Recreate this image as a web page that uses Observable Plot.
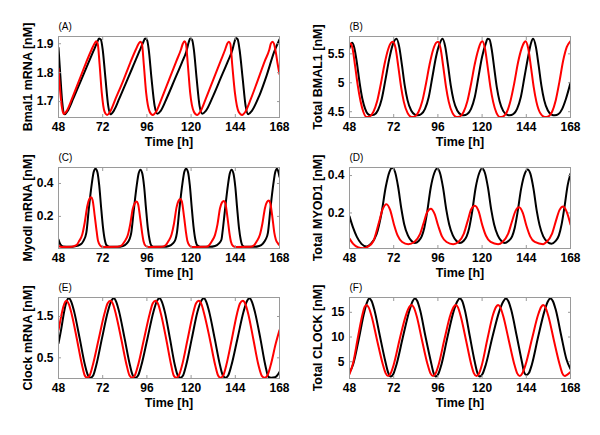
<!DOCTYPE html>
<html>
<head>
<meta charset="utf-8">
<script src="https://cdn.jsdelivr.net/npm/d3@7"></script>
<script src="https://cdn.jsdelivr.net/npm/@observablehq/plot@0.6"></script>
<style>
  html, body { margin: 0; padding: 0; background: white; }
  #wrap { position: relative; width: 600px; height: 435px; overflow: hidden; background: white; font-family: "Liberation Sans", Arial, sans-serif; }
  .pan { position: absolute; }
</style>
</head>
<body>
<div id="wrap"></div>
<script>
const timeTicks = [48, 72, 96, 120, 144, 168];
const panelLetters = ["(A)", "(B)", "(C)", "(D)", "(E)", "(F)"];
const yLabels = ["Bmal1 mRNA [nM]", "Total BMAL1 [nM]", "Myodl mRNA [nM]", "Total MYOD1 [nM]", "Clock mRNA [nM]", "Total CLOCK [nM]"];
const xLabel = "Time [h]";
const yDomains = [[1.645, 1.925], [4.40, 5.80], [0.005, 0.497], [0.01, 0.443], [0, 1.96], [1.6, 18]];
const yTickSets = [[1.7, 1.8, 1.9], [4.5, 5, 5.5], [0.2, 0.4], [0.2, 0.4], [0.5, 1.5], [5, 10, 15]];

// Panel A: Bmal1 mRNA
const bmal1Black = [[48,1.886],[49,1.79],[50,1.70],[51.4,1.656],[53,1.668],[56,1.71],[60,1.77],[64,1.83],[67,1.875],[69,1.905],[70,1.918],[71,1.914],[72,1.88],[73.5,1.78],[75,1.685],[76.2,1.656],[78,1.668],[81,1.71],[85,1.77],[89,1.83],[92,1.875],[94,1.905],[95,1.918],[96,1.914],[97,1.88],[98.5,1.78],[100.2,1.685],[101.6,1.658],[103.5,1.668],[107,1.715],[111,1.775],[115,1.835],[117.5,1.875],[118.7,1.905],[119.5,1.918],[120.5,1.914],[121.5,1.88],[123,1.78],[124.6,1.685],[126,1.658],[128,1.668],[132,1.72],[136,1.78],[140,1.84],[142.5,1.88],[143.5,1.905],[144.3,1.92],[145.3,1.915],[146.3,1.88],[148,1.78],[149.6,1.685],[151,1.656],[153,1.668],[157,1.72],[161,1.79],[165,1.87],[168,1.915]];
const bmal1Red = [[48,1.814],[49,1.73],[50,1.675],[50.9,1.657],[52.5,1.668],[55,1.705],[59,1.77],[63,1.835],[66,1.88],[67.5,1.9],[68.5,1.909],[69.3,1.90],[70.3,1.83],[71.5,1.73],[73,1.665],[74.4,1.654],[76,1.665],[79,1.71],[83,1.77],[87,1.835],[90,1.88],[91.5,1.9],[92.5,1.907],[93.3,1.90],[94.3,1.83],[95.6,1.73],[97.5,1.665],[99.2,1.654],[101,1.665],[104,1.71],[108,1.775],[112,1.84],[114.5,1.88],[115.5,1.9],[116.4,1.909],[117.2,1.90],[118.2,1.83],[119.5,1.73],[121.5,1.665],[123.3,1.654],[125,1.665],[128,1.71],[132,1.775],[136,1.84],[138.5,1.88],[139.6,1.9],[140.5,1.907],[141.3,1.90],[142.3,1.83],[143.8,1.73],[145.8,1.665],[147.7,1.654],[149.5,1.665],[152.5,1.71],[156,1.77],[160,1.84],[162.5,1.88],[163.3,1.9],[164.2,1.907],[165,1.90],[166,1.87],[167,1.83],[168,1.795]];

// Panel B: Total BMAL1
const totBmal1Black = [[48,5.60],[49.4,5.69],[50.5,5.62],[52,5.35],[53.5,5.0],[55,4.72],[56.5,4.55],[58,4.46],[59.5,4.437],[61.5,4.45],[63.5,4.53],[65.5,4.72],[67.5,5.05],[69.5,5.4],[71.5,5.66],[73.5,5.76],[75,5.62],[76.5,5.3],[78,4.95],[79.5,4.7],[81.5,4.52],[83.5,4.45],[85,4.437],[87,4.46],[89,4.55],[91,4.75],[93,5.1],[95,5.45],[97,5.68],[98.5,5.76],[100,5.62],[101.5,5.3],[103,4.95],[104.5,4.7],[106.5,4.52],[108.5,4.45],[110,4.437],[112,4.46],[114,4.55],[116,4.75],[118,5.1],[120,5.45],[122,5.68],[123,5.76],[124,5.75],[125.2,5.58],[126.6,5.25],[128,4.92],[129.5,4.68],[131.5,4.51],[133.5,4.45],[135,4.437],[137,4.46],[139,4.55],[141,4.75],[143,5.1],[145,5.45],[146.5,5.68],[147.7,5.76],[149.2,5.62],[150.7,5.3],[152.2,4.95],[153.7,4.7],[155.7,4.52],[157.7,4.45],[159.5,4.437],[161.5,4.46],[163.5,4.55],[165.5,4.72],[168,5.0]];
const totBmal1Red = [[48,5.66],[48.6,5.68],[49.6,5.6],[51,5.3],[52.5,4.95],[54,4.68],[55.5,4.5],[57.2,4.41],[59,4.42],[61,4.5],[63,4.68],[65,4.98],[67,5.32],[69,5.58],[70.5,5.69],[71.7,5.71],[73,5.6],[74.5,5.28],[76,4.93],[77.5,4.67],[79.5,4.48],[81.7,4.41],[83.5,4.42],[85.5,4.5],[87.5,4.68],[89.5,4.98],[91.5,5.32],[93.5,5.58],[95,5.69],[96.1,5.71],[97.4,5.6],[98.9,5.28],[100.4,4.93],[101.9,4.67],[103.9,4.48],[106.1,4.41],[108,4.42],[110,4.5],[112,4.68],[114,4.98],[116,5.32],[118,5.58],[119.2,5.69],[120.2,5.72],[121.5,5.6],[123,5.28],[124.5,4.93],[126,4.67],[127.8,4.48],[129.6,4.41],[131.5,4.42],[133.5,4.5],[135.5,4.7],[137.5,5.0],[139.5,5.35],[141.5,5.6],[142.7,5.69],[143.6,5.72],[145,5.6],[146.5,5.28],[148,4.93],[149.5,4.67],[151.5,4.48],[154,4.41],[156,4.42],[158,4.5],[160,4.7],[162,5.02],[164,5.38],[166,5.62],[168,5.72]];

// Panel C: Myod1 mRNA
const myodBlack = [[48,0.06],[49,0.03],[50.5,0.017],[54,0.015],[57,0.018],[60,0.03],[61.5,0.05],[63.1,0.1],[64.5,0.25],[66.1,0.4],[67.1,0.47],[68.1,0.49],[69.1,0.47],[70.1,0.39],[71.1,0.26],[72.1,0.14],[73.1,0.06],[74.1,0.025],[75.6,0.016],[80,0.015],[83,0.02],[85,0.035],[86.5,0.06],[87.5,0.1],[88.9,0.24],[90.5,0.39],[91.5,0.46],[92.5,0.484],[93.5,0.46],[94.5,0.38],[95.5,0.25],[96.5,0.13],[97.5,0.055],[98.5,0.022],[100,0.015],[105,0.015],[108,0.02],[110,0.035],[111.5,0.06],[112.3,0.1],[113.7,0.25],[115.3,0.4],[116.3,0.47],[117.3,0.49],[118.3,0.47],[119.3,0.39],[120.3,0.26],[121.3,0.14],[122.3,0.06],[123.3,0.025],[124.8,0.016],[130,0.015],[133,0.02],[135,0.035],[136.5,0.06],[137,0.1],[138.4,0.24],[140,0.39],[141,0.46],[142,0.484],[143,0.46],[144,0.38],[145,0.25],[146,0.13],[147,0.055],[148,0.022],[149.5,0.015],[154,0.015],[157,0.02],[159,0.035],[160.5,0.06],[161.7,0.1],[163.1,0.25],[164.7,0.4],[165.7,0.47],[166.7,0.49],[167.4,0.47],[168,0.44]];
const myodRed = [[48,0.02],[50,0.014],[55,0.015],[57.7,0.025],[59.2,0.05],[60.9,0.09],[62.2,0.16],[63.6,0.26],[64.7,0.305],[65.7,0.316],[66.5,0.3],[67.7,0.2],[68.7,0.11],[69.5,0.05],[70.7,0.022],[72,0.014],[80,0.015],[82.4,0.025],[83.9,0.048],[85.6,0.085],[86.9,0.15],[88.3,0.245],[89.4,0.28],[90.4,0.29],[91.2,0.275],[92.4,0.185],[93.4,0.1],[94.2,0.048],[95.4,0.02],[97,0.014],[104,0.015],[106.2,0.025],[107.7,0.05],[109.4,0.09],[110.7,0.155],[112.1,0.255],[113.2,0.295],[114.2,0.306],[115,0.29],[116.2,0.195],[117.2,0.105],[118,0.05],[119.2,0.022],[120.5,0.014],[128,0.015],[129.8,0.025],[131.3,0.05],[133,0.088],[134.3,0.15],[135.7,0.25],[136.8,0.285],[137.8,0.294],[138.6,0.28],[139.8,0.19],[140.8,0.1],[141.6,0.048],[142.8,0.02],[144,0.014],[152,0.015],[154.2,0.025],[155.7,0.05],[157.4,0.09],[158.7,0.155],[160.1,0.25],[161.2,0.287],[162.2,0.296],[163,0.28],[164.2,0.19],[165.2,0.1],[166,0.06],[167.2,0.035],[168,0.025]];

// Panel D: Total MYOD1
const totMyodBlack = [[48,0.182],[50,0.12],[52,0.072],[54.5,0.035],[57.2,0.021],[59.5,0.035],[62.7,0.086],[65.4,0.2],[67.7,0.34],[69.7,0.42],[71.2,0.442],[72.7,0.42],[74.4,0.34],[76.2,0.22],[77.7,0.14],[79.7,0.08],[81.7,0.05],[83.5,0.039],[85.5,0.05],[87.2,0.075],[88.6,0.12],[90.1,0.2],[92.1,0.335],[94.1,0.415],[95.6,0.437],[97.1,0.415],[98.8,0.335],[100.6,0.215],[102.1,0.14],[104.1,0.08],[106.1,0.05],[107.9,0.039],[109.9,0.05],[111.6,0.075],[113,0.12],[114.5,0.2],[116.5,0.335],[118.5,0.415],[120,0.437],[121.5,0.415],[123.2,0.335],[125,0.215],[126.5,0.14],[128.5,0.08],[130.5,0.05],[132.3,0.039],[134.3,0.05],[136.3,0.075],[137.7,0.12],[139.2,0.2],[141.2,0.33],[143.2,0.41],[144.7,0.432],[146.2,0.41],[147.9,0.33],[149.7,0.21],[151.2,0.135],[153.2,0.075],[155.5,0.045],[157.7,0.036],[159.7,0.048],[161.7,0.08],[163.2,0.14],[164.7,0.23],[166.5,0.35],[168,0.41]];
const totMyodRed = [[48,0.063],[50,0.035],[52.5,0.017],[55.4,0.011],[58,0.02],[61,0.05],[64,0.15],[66,0.22],[68.1,0.247],[70.1,0.215],[72.1,0.14],[74.1,0.08],[76.6,0.045],[79.9,0.033],[83.2,0.045],[86.2,0.085],[88.2,0.145],[90.2,0.205],[92.2,0.223],[94.2,0.195],[96.2,0.13],[98.2,0.075],[100.7,0.045],[104.3,0.033],[107.1,0.045],[110.1,0.09],[112.1,0.155],[114.1,0.22],[116.1,0.239],[118.1,0.21],[120.1,0.135],[122.1,0.078],[124.6,0.045],[128.7,0.033],[131.1,0.045],[134.1,0.088],[136.1,0.15],[138.1,0.21],[140.1,0.23],[142.1,0.2],[144.1,0.13],[146.1,0.075],[148.6,0.045],[153.2,0.033],[155,0.045],[158,0.09],[160,0.155],[162,0.215],[164,0.235],[166,0.205],[168,0.138]];

// Panel E: Clock mRNA
const clockBlack = [[48,0.85],[49.5,1.2],[51,1.6],[52.3,1.85],[53.6,1.94],[55,1.85],[56.6,1.6],[59.5,0.97],[62.4,0.32],[64,0.08],[65.4,0.02],[66.9,0.08],[68.5,0.32],[71.6,0.97],[74.8,1.62],[76.5,1.86],[78,1.94],[79.4,1.85],[81,1.6],[83.9,0.97],[86.8,0.32],[88.3,0.08],[89.8,0.02],[91.3,0.08],[93,0.32],[96.3,0.97],[99.6,1.62],[101.3,1.86],[102.8,1.94],[104.2,1.85],[105.8,1.6],[108.5,0.97],[111.2,0.32],[112.7,0.08],[114.2,0.02],[115.7,0.08],[117.3,0.32],[120.4,0.97],[123.5,1.62],[125.3,1.86],[126.9,1.94],[128.3,1.85],[129.9,1.6],[132.8,0.97],[135.7,0.32],[137.2,0.08],[138.7,0.02],[140.2,0.08],[141.9,0.32],[145.2,0.97],[148.5,1.62],[150.2,1.86],[151.7,1.94],[153.1,1.85],[154.7,1.6],[157.6,0.97],[160.3,0.32],[162,0.04],[163.5,0.02],[165.5,0.03],[167,0.09],[168,0.16]];
const clockRed = [[48,1.17],[49.2,1.45],[50.7,1.75],[52.2,1.88],[53.6,1.8],[55.2,1.55],[58,0.95],[60.8,0.32],[62.2,0.08],[63.6,0.02],[65,0.08],[66.6,0.32],[69.8,0.95],[73,1.58],[74.7,1.82],[76.2,1.88],[77.6,1.8],[79.2,1.55],[82.1,0.95],[85,0.32],[86.5,0.08],[88,0.02],[89.5,0.08],[91.2,0.32],[94.4,0.95],[97.6,1.58],[99.2,1.82],[100.7,1.88],[102.1,1.8],[103.7,1.55],[106.5,0.95],[109.2,0.32],[110.5,0.08],[111.9,0.02],[113.4,0.08],[115.1,0.32],[118.1,0.95],[121.1,1.58],[122.7,1.82],[124.2,1.88],[125.6,1.8],[127.2,1.55],[130.2,0.95],[133.1,0.32],[134.6,0.08],[136,0.02],[137.5,0.08],[139.1,0.32],[142.1,0.95],[145,1.58],[146.6,1.82],[148.1,1.88],[149.5,1.8],[151.1,1.55],[153.8,0.95],[156.6,0.32],[158.5,0.06],[160,0.02],[161.5,0.08],[163.2,0.32],[166,0.85],[168,1.17]];

// Panel F: Total CLOCK
const totClockBlack = [[48,2.8],[50,4.5],[53,9.5],[56,15],[57.5,17.0],[58.7,17.8],[60,17.3],[61.5,15.5],[64.5,10.2],[67.5,5.0],[69,2.8],[70.4,2.0],[71.8,2.5],[73.5,4.4],[77,10],[80.5,15.3],[82.2,17.2],[83.5,17.8],[84.8,17.3],[86.3,15.5],[89.2,10.2],[92.2,5.0],[93.6,2.8],[94.9,2.0],[96.2,2.5],[97.9,4.4],[101.2,10],[104.6,15.3],[106.5,17.2],[107.9,17.8],[109.2,17.3],[110.6,15.5],[113.3,10.2],[116,5.0],[117.4,2.8],[118.8,2.0],[120.2,2.5],[122,4.4],[125.6,10],[129.4,15.3],[131.5,17.2],[132.9,17.8],[134.2,17.3],[135.8,15.5],[138.8,10.2],[141.6,5.0],[142.9,2.8],[144.1,2.3],[145.4,2.7],[147,4.4],[150.4,10],[153.9,15.3],[155.7,17.2],[157.1,17.8],[158.4,17.3],[160,15.5],[163,10.2],[165.8,5.5],[168,3.5]];
const totClockRed = [[48,2.5],[50,4.8],[52.5,9.8],[55,14.5],[56.2,16.1],[57.2,16.5],[58.4,16.0],[60,14.2],[63,9.3],[66,4.6],[67.6,2.7],[69,2.1],[70.3,2.6],[72,4.4],[75.4,9.8],[78.8,14.6],[80.5,16.1],[81.7,16.5],[82.9,16.0],[84.5,14.2],[87.4,9.3],[90.3,4.6],[91.9,2.7],[93.4,2.1],[94.7,2.6],[96.4,4.4],[99.7,9.8],[102.9,14.6],[104.6,16.1],[105.7,16.5],[106.9,16.0],[108.4,14.2],[111.3,9.3],[114,4.6],[115.5,2.7],[117,2.1],[118.3,2.6],[119.9,4.4],[123,9.8],[126,14.6],[127.6,16.1],[128.7,16.5],[129.9,16.0],[131.5,14.2],[134.5,9.3],[137.4,4.6],[139,2.7],[140.5,2.1],[141.8,2.6],[143.6,4.4],[147.2,9.8],[150.5,14.6],[152.1,16.1],[153.2,16.5],[154.4,16.0],[156,14.2],[159,9.3],[162,4.6],[163.5,2.7],[164.9,2.1],[166.3,2.4],[168,2.9]];

const blackSeries = [bmal1Black, totBmal1Black, myodBlack, totMyodBlack, clockBlack, totClockBlack];
const redSeries = [bmal1Red, totBmal1Red, myodRed, totMyodRed, clockRed, totClockRed];

const font = "'Liberation Sans', Arial, sans-serif";
const wrap = document.getElementById("wrap");
const tops = [0, 131, 261];

for (let i = 0; i < 6; i++) {
  const col = i % 2, row = Math.floor(i / 2);
  const fmt = d => String(d);
  const chart = Plot.plot({
    width: 300,
    height: 145,
    marginTop: 36,
    marginBottom: 28,
    marginLeft: col === 0 ? 58 : 49,
    marginRight: col === 0 ? 21 : 30,
    style: {fontFamily: font, fontSize: "12px", fontWeight: "bold", background: "transparent", overflow: "visible", color: "black"},
    x: {domain: [48, 168]},
    y: {domain: yDomains[i]},
    marks: [
      Plot.line(blackSeries[i], {x: d => d[0], y: d => d[1], stroke: "black", strokeWidth: 2, curve: "monotone-x", clip: true}),
      Plot.line(redSeries[i], {x: d => d[0], y: d => d[1], stroke: "#ff0000", strokeWidth: 2, curve: "monotone-x", clip: true}),
      Plot.frame({stroke: "#9a9a9a", strokeWidth: 1}),
      Plot.axisX({ticks: timeTicks, tickFormat: fmt, tickSize: -3, tickPadding: 8, stroke: "#9a9a9a", label: null, fontSize: 12, fontWeight: "bold"}),
      Plot.axisX({anchor: "top", ticks: timeTicks, tickFormat: () => "", tickSize: -3, stroke: "#9a9a9a", label: null}),
      Plot.axisY({ticks: yTickSets[i], tickFormat: fmt, tickSize: -3, tickPadding: 8, stroke: "#9a9a9a", label: null, fontSize: 12, fontWeight: "bold"}),
      Plot.axisY({anchor: "right", ticks: yTickSets[i], tickFormat: () => "", tickSize: -3, stroke: "#9a9a9a", label: null}),
      Plot.text([xLabel], {frameAnchor: "bottom", dy: 28, fontSize: 12.5, fontWeight: "bold", fill: "black"}),
      Plot.text([yLabels[i]], {frameAnchor: "left", textAnchor: "middle", lineAnchor: "middle", dx: col === 0 ? -31 : -32, rotate: -90, fontSize: 12.5, fontWeight: "bold", fill: "black"}),
      Plot.text([panelLetters[i]], {frameAnchor: "top-left", dy: -14, textAnchor: "start", fontSize: 10, fontWeight: "normal", fill: "black"})
    ]
  });
  const holder = document.createElement("div");
  holder.className = "pan";
  holder.style.left = (col * 300) + "px";
  holder.style.top = tops[row] + "px";
  holder.appendChild(chart);
  wrap.appendChild(holder);
}
</script>
</body>
</html>
